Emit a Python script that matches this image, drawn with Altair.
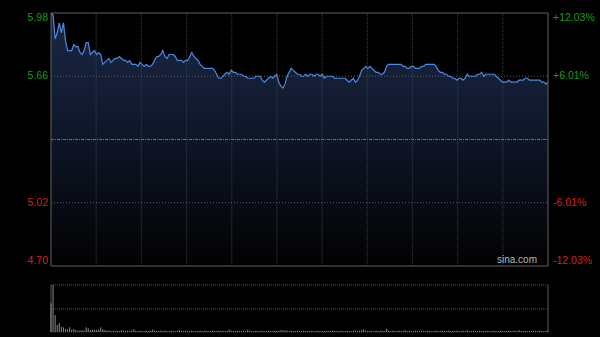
import altair as alt
import pandas as pd

# ---- data ----
prices = [
    5.98, 5.97, 5.85, 5.88, 5.93, 5.88, 5.93, 5.84, 5.79, 5.79,
    5.79, 5.82, 5.81, 5.81, 5.78, 5.77, 5.79, 5.83, 5.83, 5.77,
    5.78, 5.79, 5.77, 5.78, 5.77, 5.72, 5.73, 5.74, 5.75, 5.73,
    5.74, 5.75, 5.75, 5.76, 5.75, 5.74, 5.74, 5.73, 5.74, 5.72,
    5.72, 5.72, 5.71, 5.73, 5.72, 5.71, 5.72, 5.71,
    5.71, 5.72, 5.74, 5.76, 5.76, 5.77, 5.79, 5.76, 5.75, 5.77,
    5.77, 5.77, 5.76, 5.74, 5.74, 5.74, 5.73, 5.74, 5.74, 5.76,
    5.78, 5.76, 5.75, 5.74, 5.72, 5.71, 5.70, 5.70, 5.70, 5.70,
    5.70, 5.69, 5.67, 5.65, 5.65, 5.66, 5.67, 5.68, 5.67, 5.69,
    5.68, 5.68, 5.67, 5.67, 5.67, 5.66, 5.66, 5.65, 5.65,
    5.65, 5.65, 5.66, 5.66, 5.66, 5.64, 5.63, 5.64, 5.65, 5.66,
    5.65, 5.66, 5.67, 5.63, 5.61, 5.60, 5.62, 5.66, 5.68, 5.70,
    5.69, 5.68, 5.67, 5.67, 5.66, 5.66, 5.67, 5.66, 5.67, 5.67,
    5.66, 5.67, 5.67, 5.66, 5.67, 5.65, 5.66, 5.66, 5.66, 5.66,
    5.65, 5.65, 5.65, 5.65, 5.65, 5.65, 5.64, 5.63,
    5.64, 5.65, 5.63, 5.64, 5.66, 5.69, 5.70, 5.71, 5.70, 5.71,
    5.70, 5.69, 5.68, 5.68, 5.67, 5.67, 5.68, 5.71, 5.72, 5.72,
    5.72, 5.72, 5.72, 5.72, 5.72, 5.71, 5.71, 5.70, 5.70, 5.71,
    5.71, 5.70, 5.70, 5.70, 5.71, 5.71, 5.72, 5.72, 5.72, 5.72,
    5.72, 5.71, 5.69, 5.68, 5.68, 5.67, 5.67, 5.66, 5.66,
    5.65, 5.65, 5.64, 5.65, 5.65, 5.64, 5.65, 5.67, 5.66, 5.66,
    5.66, 5.66, 5.67, 5.67, 5.68, 5.66, 5.67, 5.67, 5.67, 5.67,
    5.67, 5.66, 5.65, 5.64, 5.63, 5.63, 5.63, 5.64, 5.63, 5.63,
    5.63, 5.63, 5.64, 5.64, 5.64, 5.65, 5.65, 5.64, 5.64, 5.64,
    5.64, 5.64, 5.64, 5.63, 5.63, 5.62, 5.63,
]

volumes = [
    61, 100, 36, 15, 19, 11, 10, 6, 6, 10, 5, 6, 4, 3, 3, 4, 3, 10, 8, 4,
    5, 5, 4, 5, 10, 6, 4, 3, 3, 2, 3, 2, 3, 2, 4, 3, 2, 3, 2, 3,
    6, 3, 2, 3, 2, 2, 3, 2, 3, 5, 3, 2, 2, 3, 2, 3, 2, 2, 3, 2,
    2, 3, 4, 2, 2, 3, 2, 2, 3, 2, 2, 2, 3, 2, 2, 3, 2, 2, 3, 2,
    2, 3, 2, 3, 2, 2, 5, 3, 2, 2, 3, 2, 2, 3, 2, 5, 3, 2, 2, 3,
    2, 2, 3, 2, 2, 3, 2, 2, 3, 2, 3, 4, 4, 3, 3, 2, 3, 2, 2, 3,
    2, 2, 3, 2, 2, 2, 3, 2, 2, 3, 2, 2, 2, 3, 2, 2, 3, 2, 2, 2,
    3, 2, 2, 3, 2, 2, 3, 3, 2, 3, 4, 6, 3, 2, 3, 2, 2, 3, 2, 2,
    3, 2, 7, 3, 2, 3, 2, 2, 3, 2, 2, 4, 2, 3, 2, 2, 3, 2, 2, 3,
    2, 2, 3, 2, 2, 2, 3, 2, 2, 3, 2, 2, 3, 2, 2, 2, 3, 2, 2, 3,
    2, 4, 2, 2, 3, 2, 2, 3, 2, 2, 2, 3, 2, 2, 3, 2, 2, 3, 2, 2,
    2, 3, 2, 2, 3, 2, 4, 2, 2, 3, 2, 2, 2, 3, 2, 2, 3, 2, 2, 2, 3,
]

minutes = list(range(len(prices)))

prev_close = 5.34
price_low, price_high = 4.70, 5.98
label_prices = [5.98, 5.66, 5.02, 4.70]
left_labels = ["5.98", "5.66", "5.02", "4.70"]
right_labels = ["+12.03%", "+6.01%", "-6.01%", "-12.03%"]
grid_prices = [5.66, 5.02]
grid_minutes = [21.8, 43.6, 65.5, 87.3, 109.1, 130.9, 152.7, 174.5, 196.4, 218.2]

# ---- layout (pixels) ----
W = 497
H_PRICE = 253
VOL_TOP, VOL_MID, VOL_BOT = 272, 296, 319
GREEN = "#1c9a1c"
RED = "#d42414"
FONT = "Liberation Sans"

df = pd.DataFrame({"minute": minutes, "price": prices, "volume": volumes})
one = pd.DataFrame({"k": [0]})

xs = alt.Scale(domain=[0, 240], nice=False, zero=False)
ys = alt.Scale(domain=[price_low, price_high], range=[H_PRICE, 0], nice=False, zero=False)
vs = alt.Scale(domain=[0, 100], range=[VOL_BOT, VOL_TOP], nice=False)

X = alt.X("minute:Q", scale=xs, axis=None)

area = alt.Chart(df).mark_area(
    color=alt.Gradient(
        gradient="linear",
        stops=[
            alt.GradientStop(color="#1b2946", offset=0),
            alt.GradientStop(color="#0e1527", offset=0.5),
            alt.GradientStop(color="#020202", offset=1),
        ],
        x1=1, x2=1, y1=0, y2=1,
    )
).encode(x=X, y=alt.Y("price:Q", scale=ys, axis=None), y2=alt.datum(price_low))

vgrid = alt.Chart(pd.DataFrame({"minute": grid_minutes})).mark_rule(
    color="#3e3e3e", strokeDash=[1, 1], strokeWidth=1
).encode(x=X, y=alt.value(0), y2=alt.value(H_PRICE))

hgrid = alt.Chart(pd.DataFrame({"price": grid_prices})).mark_rule(
    color="#5c5c5c", strokeDash=[1, 2], strokeWidth=1
).encode(y=alt.Y("price:Q", scale=ys, axis=None), x=alt.value(0), x2=alt.value(W))

midline = alt.Chart(pd.DataFrame({"price": [prev_close]})).mark_rule(
    color="#727272", strokeDash=[3, 1, 1, 1], strokeWidth=1
).encode(y=alt.Y("price:Q", scale=ys, axis=None), x=alt.value(0), x2=alt.value(W))

line = alt.Chart(df).mark_line(color="#4d8ae2", strokeWidth=1.2).encode(
    x=X, y=alt.Y("price:Q", scale=ys, axis=None)
)

frame = alt.Chart(one).mark_rect(fillOpacity=0, stroke="#606060", strokeWidth=1).encode(
    x=alt.value(0), x2=alt.value(W), y=alt.value(0), y2=alt.value(H_PRICE)
)

vol_lines = alt.Chart(pd.DataFrame({"v": [VOL_TOP, VOL_MID]})).mark_rule(
    color="#5a5a5a", strokeDash=[1, 1], strokeWidth=1
).encode(y=alt.Y("v:Q", scale=None), x=alt.value(0), x2=alt.value(W))

vol_sides = alt.Chart(pd.DataFrame({"h": [0, W]})).mark_rule(
    color="#585858", strokeWidth=1
).encode(x=alt.X("h:Q", scale=None), y=alt.value(VOL_TOP), y2=alt.value(VOL_BOT))

vol_base = alt.Chart(one).mark_rule(color="#404040", strokeDash=[1, 1], strokeWidth=1).encode(
    x=alt.value(0), x2=alt.value(W), y=alt.value(VOL_BOT)
)

vol = alt.Chart(df).mark_rule(color="#8a8a8a", strokeWidth=1).encode(
    x=X, y=alt.Y("volume:Q", scale=vs, axis=None), y2=alt.datum(0)
)

lab_df = pd.DataFrame({"price": label_prices, "left": left_labels, "right": right_labels})
col = alt.condition(alt.datum.price > prev_close, alt.value(GREEN), alt.value(RED))


def labels(side, baseline, which):
    sub = lab_df[lab_df["price"].isin(which)]
    if side == "left":
        return alt.Chart(sub).mark_text(
            align="right", baseline=baseline, fontSize=10.5, font=FONT
        ).encode(x=alt.value(-3), y=alt.Y("price:Q", scale=ys, axis=None), text="left:N", color=col)
    return alt.Chart(sub).mark_text(
        align="left", baseline=baseline, fontSize=10.5, font=FONT
    ).encode(x=alt.value(W + 5), y=alt.Y("price:Q", scale=ys, axis=None), text="right:N", color=col)


label_layers = []
for side in ["left", "right"]:
    label_layers.append(labels(side, "top", [price_high]))
    label_layers.append(labels(side, "middle", grid_prices))
    label_layers.append(labels(side, "bottom", [price_low]))

brand = alt.Chart(one).mark_text(
    text="sina.com", align="right", baseline="bottom", fontSize=10, font=FONT, color="#b4b4b4"
).encode(x=alt.value(486), y=alt.value(H_PRICE - 1))

chart = alt.layer(
    area, vgrid, hgrid, midline, line, frame, brand,
    vol_lines, vol_base, vol_sides, vol,
    *label_layers,
).resolve_scale(y="independent", x="shared").properties(
    width=W,
    height=VOL_BOT,
    autosize=alt.AutoSizeParams(type="none"),
    padding={"left": 51, "top": 13, "right": 52, "bottom": 5},
).configure(background="black").configure_view(stroke=None)

chart.save("out.html", embed_options={"renderer": "svg", "actions": False})
